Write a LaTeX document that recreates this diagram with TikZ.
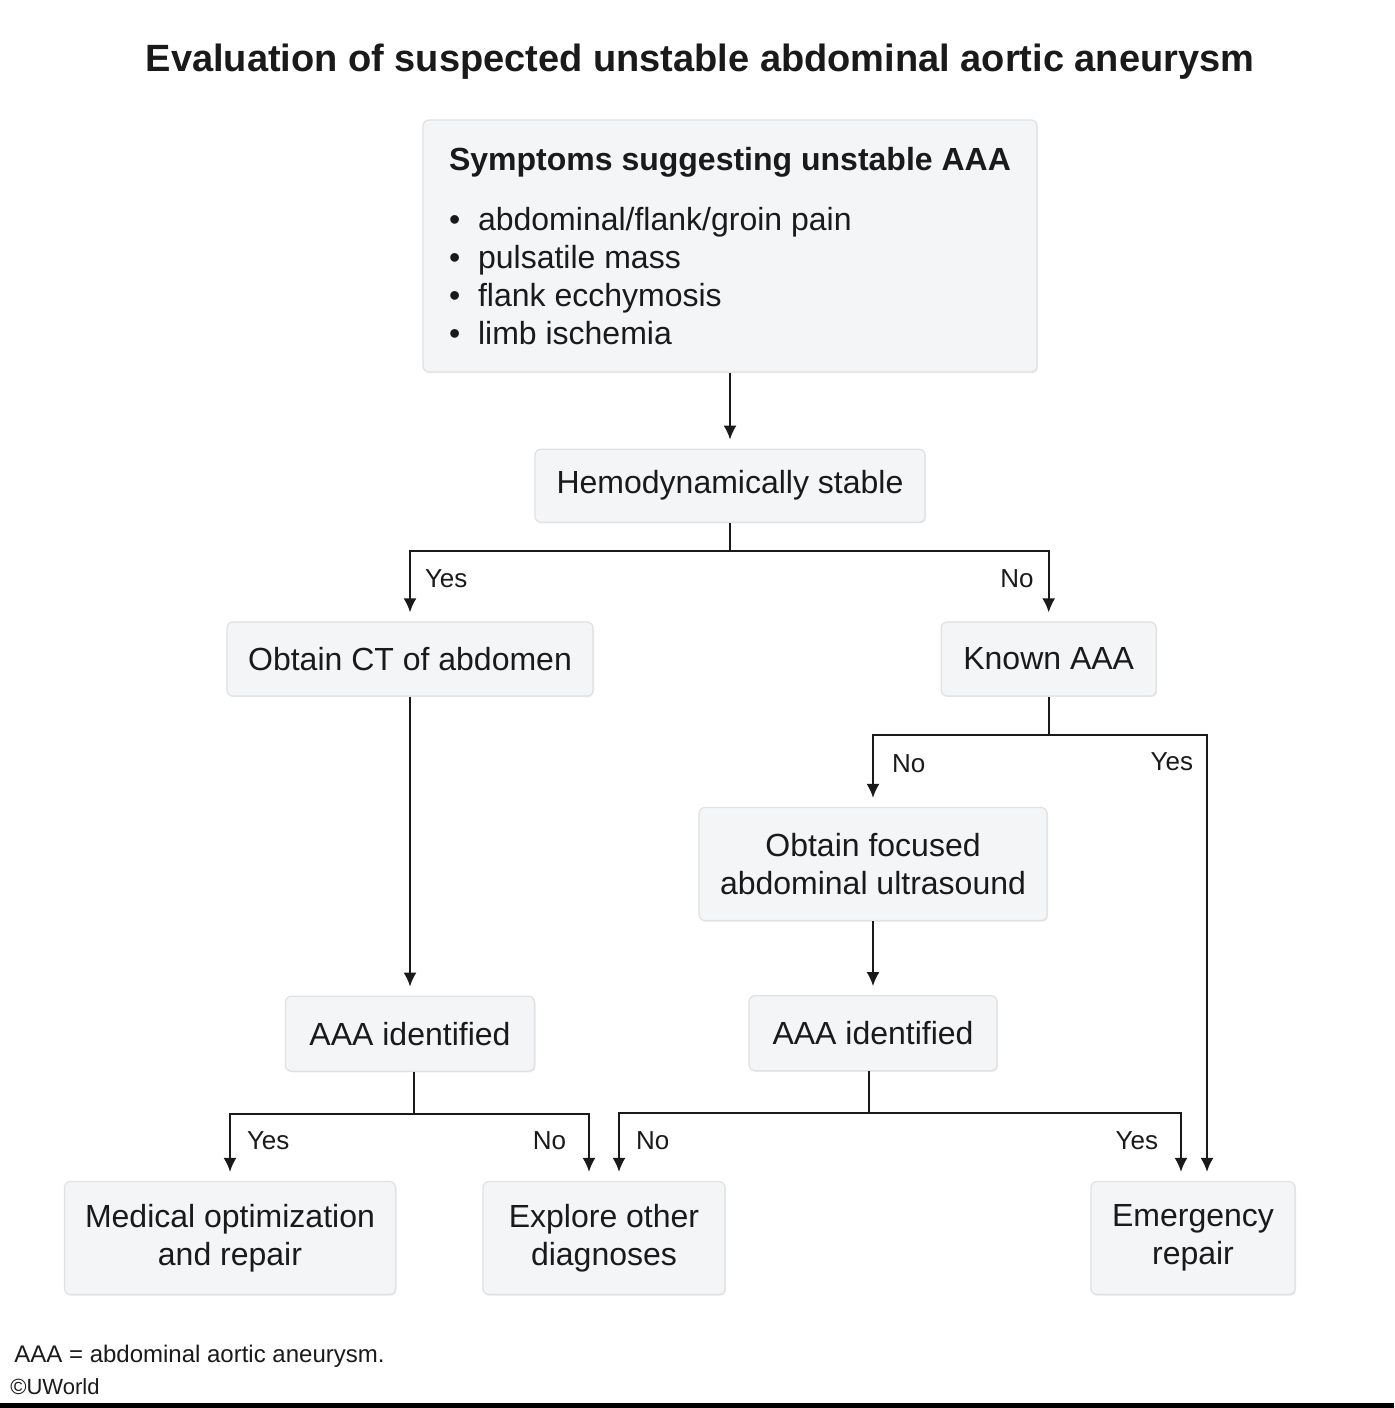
\documentclass[tikz,border=0pt]{standalone}
\usepackage{fontspec}
\setmainfont{Liberation Sans}
\usepackage{xcolor}
\usepackage{tikz}
\usetikzlibrary{positioning,shadows,arrows.meta}

\definecolor{boxfill}{HTML}{F4F5F7}
\definecolor{boxline}{HTML}{E0E1E3}
\definecolor{ink}{HTML}{1A1A1A}

\tikzset{
  box/.style={draw=boxline, fill=boxfill, rounded corners=3pt, line width=0.6pt,
    drop shadow={shadow xshift=0.5pt, shadow yshift=-0.6pt, opacity=0.15},
    align=center, text=ink, font=\fontsize{16}{19}\selectfont, inner sep=0pt},
  conn/.style={draw=ink, line width=1pt},
  arr/.style={conn, -{Latex[length=7pt,width=6.5pt]}, shorten >=4.5pt},
  lbl/.style={font=\fontsize{13}{15}\selectfont, text=ink, inner sep=0pt},
}

\begin{document}
\begin{tikzpicture}[x=0.5pt,y=-0.5pt]
  \fill[white] (0,0) rectangle (1394,1408);
  \useasboundingbox (0,0) rectangle (1394,1408);
  \fill[black] (0,1403) rectangle (1394,1408);

  \draw node[font=\bfseries\fontsize{19}{23}\selectfont, text=ink] (title) at (700,62)
    {Evaluation of suspected unstable abdominal aortic aneurysm};

  % boxes
  \draw node[box, align=left, minimum width=307pt, minimum height=126pt] (sym) at (730,246)
    {\textbf{Symptoms suggesting unstable AAA}\\[11pt]
     \makebox[14.5pt][l]{\textbullet}abdominal/flank/groin pain\\
     \makebox[14.5pt][l]{\textbullet}pulsatile mass\\
     \makebox[14.5pt][l]{\textbullet}flank ecchymosis\\
     \makebox[14.5pt][l]{\textbullet}limb ischemia};
  \draw node[box, below=38pt of sym, minimum width=195pt, minimum height=36.5pt] (hemo)
    {Hemodynamically stable};
  \draw node[box, minimum width=183pt, minimum height=37pt] (ct) at (410,659) {Obtain CT of abdomen};
  \draw node[box, right=173.5pt of ct, minimum width=107.5pt, minimum height=37pt] (known) {Known AAA};
  \draw node[box, minimum width=174pt, minimum height=56.5pt] (focus) at (873,864)
    {Obtain focused\\abdominal ultrasound};
  \draw node[box, below=149.5pt of ct, minimum width=124.5pt, minimum height=37.5pt] (aaal) {AAA identified};
  \draw node[box, below=37pt of focus, minimum width=124pt, minimum height=37.5pt] (aaar) {AAA identified};
  \draw node[box, minimum width=165.5pt, minimum height=56.5pt] (med) at (230,1238)
    {Medical optimization\\and repair};
  \draw node[box, minimum width=121pt, minimum height=56.5pt] (expl) at (604,1238)
    {Explore other\\diagnoses};
  \draw node[box, minimum width=102pt, minimum height=56.5pt] (emerg) at (1193,1238)
    {Emergency\\repair};

  % connectors
  \draw[arr] (sym) -- (hemo);
  \draw[conn] (hemo.south) -- ++(0,28) coordinate (hj);
  \draw[arr] (hj) -| node[lbl, pos=0.7, right=7pt] {Yes} (ct.north);
  \draw[arr] (hj) -| node[lbl, pos=0.7, left=7pt] {No} (known.north);

  \draw[conn] (known.south) -- ++(0,38) coordinate (kj);
  \draw[arr] (kj) -| node[lbl, pos=0.7, right=9pt] {No} (focus.north);
  \draw[arr] (kj) -| node[lbl, pos=0.53, left=6.5pt] {Yes} ([xshift=7pt]emerg.north);

  \draw[arr] (ct) -- (aaal);
  \draw[arr] (focus) -- (aaar);

  \draw[conn] ([xshift=2pt]aaal.south) -- ++(0,42) coordinate (lj);
  \draw[arr] (lj) -| node[lbl, pos=0.7, right=8pt] {Yes} (med.north);
  \draw[arr] (lj) -| node[lbl, pos=0.7, left=11pt] {No} ([xshift=-7.5pt]expl.north);

  \draw[conn] ([xshift=-2pt]aaar.south) -- ++(0,42) coordinate (rj);
  \draw[arr] (rj) -| node[lbl, pos=0.7, right=8pt] {No} ([xshift=7.5pt]expl.north);
  \draw[arr] (rj) -| node[lbl, pos=0.7, left=11pt] {Yes} ([xshift=-6pt]emerg.north);

  % footnote
  \draw node[anchor=west, inner sep=0pt, text=ink, font=\fontsize{12}{14}\selectfont] (abbr) at (14,1356)
    {AAA = abdominal aortic aneurysm.};
  \draw node[anchor=west, inner sep=0pt, text=ink, font=\fontsize{11}{13}\selectfont] (copy) at (10,1387)
    {\textcopyright UWorld};
\end{tikzpicture}
\end{document}
